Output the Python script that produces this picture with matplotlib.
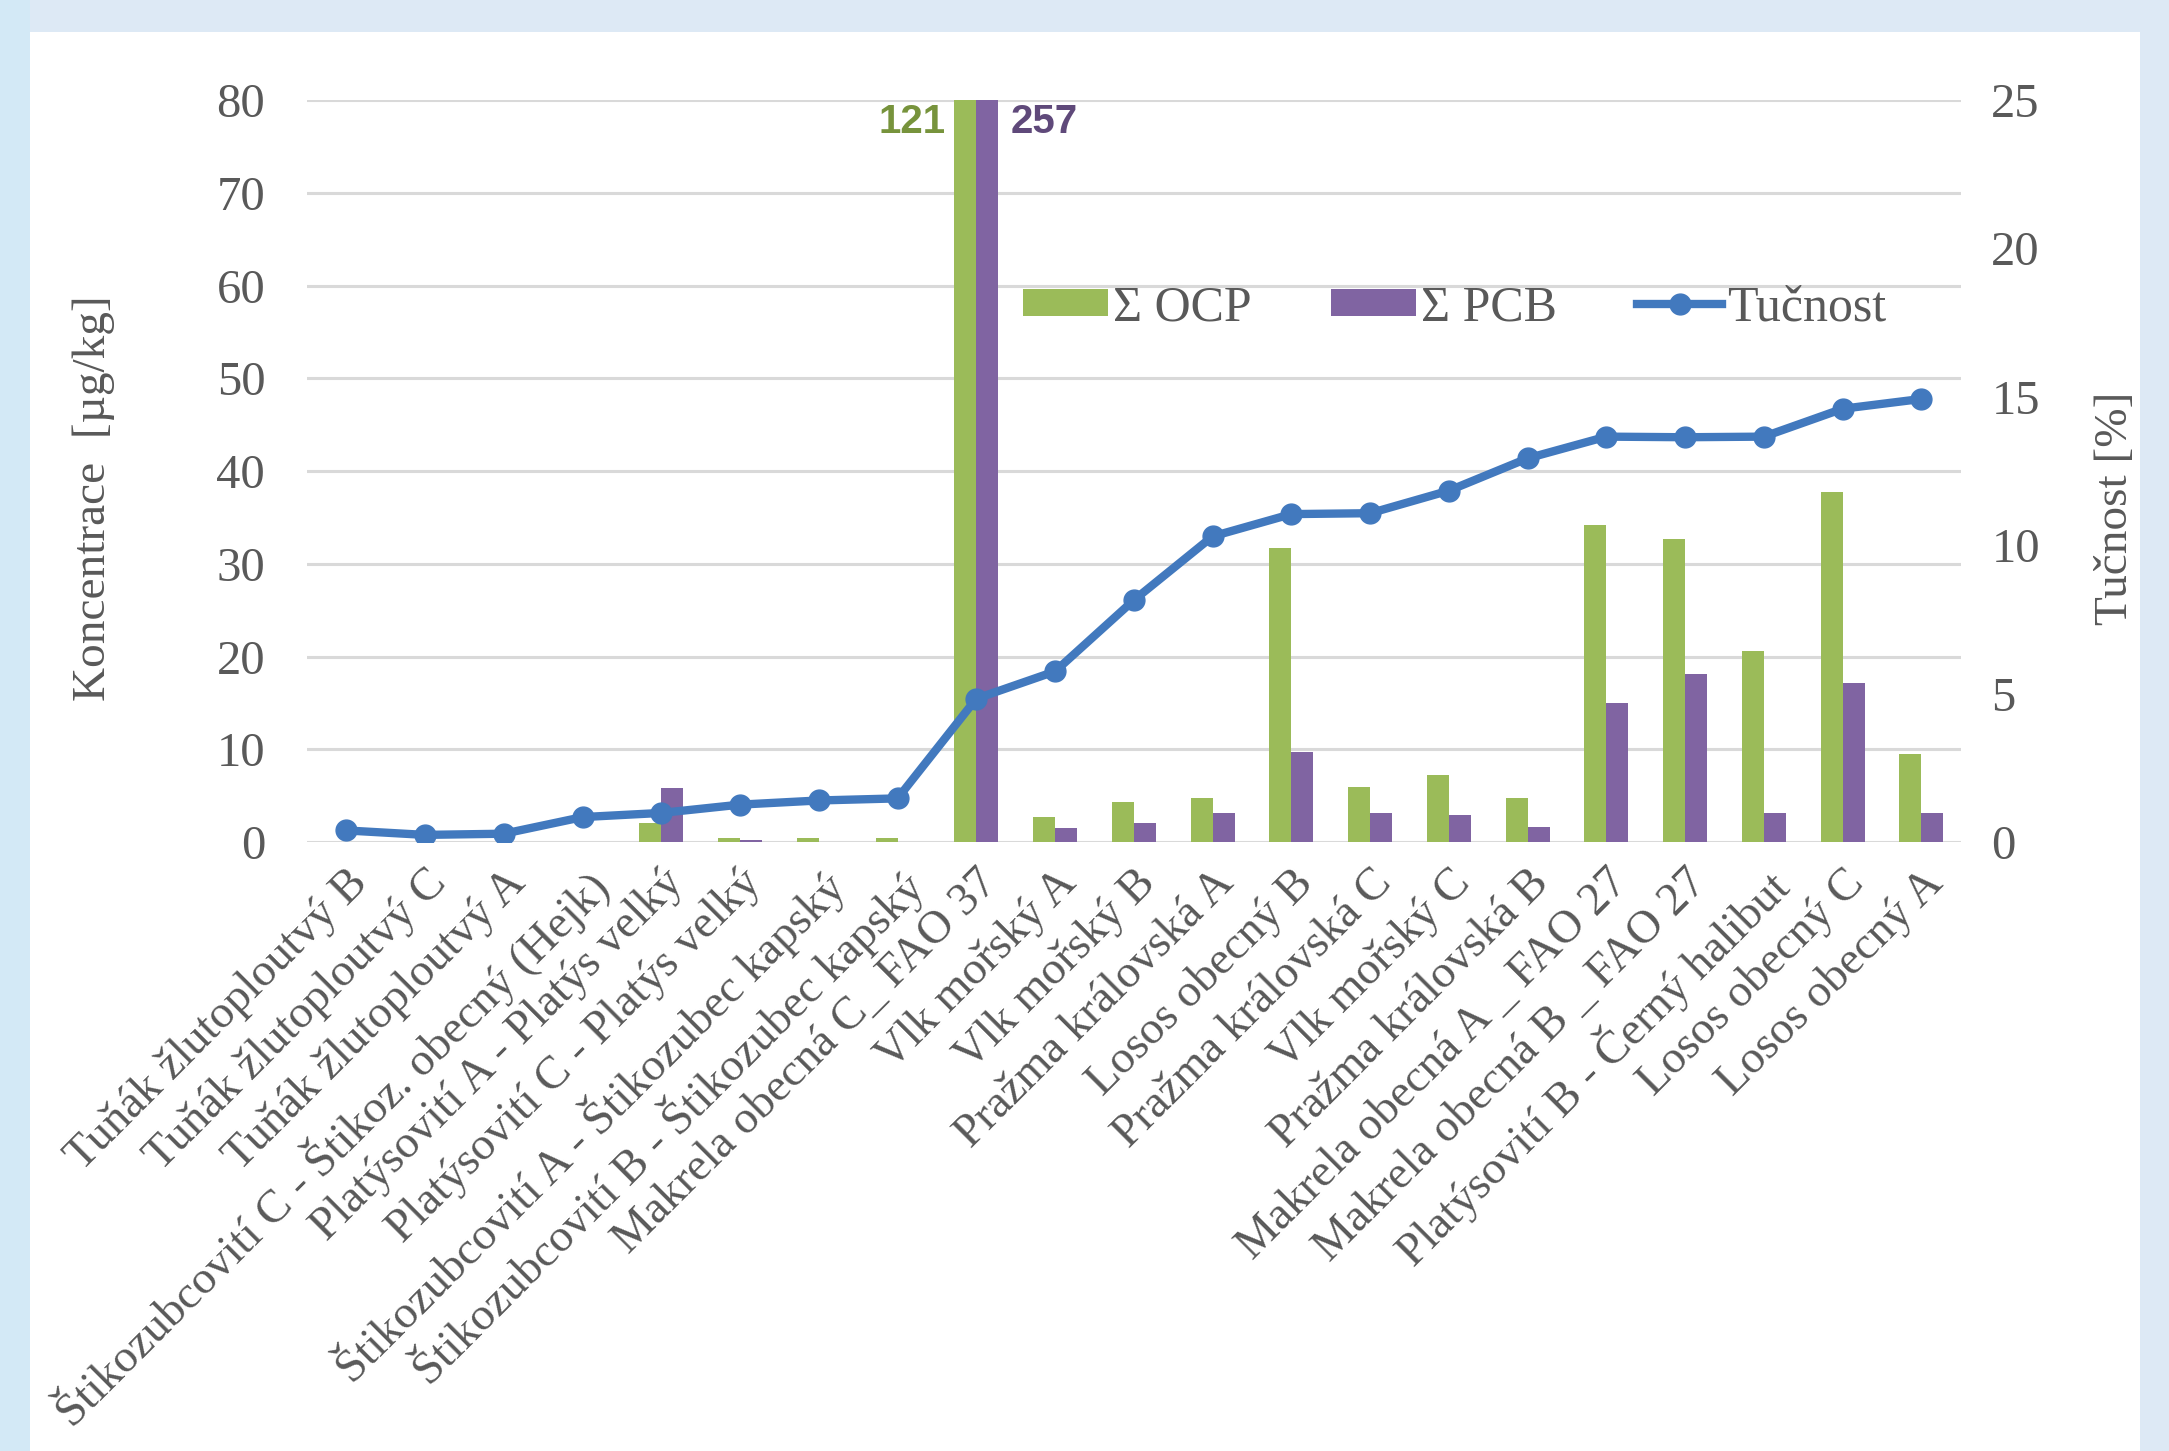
import matplotlib
matplotlib.use("Agg")
import matplotlib.pyplot as plt
import numpy as np
from matplotlib.patches import Rectangle

# kategorie (vzorky ryb)
kategorie = [
    "Tuňák žlutoploutvý B",
    "Tuňák žlutoploutvý C",
    "Tuňák žlutoploutvý A",
    "Štikozubcovití C - Štikoz. obecný (Hejk)",
    "Platýsovití A - Platýs velký",
    "Platýsovití C - Platýs velký",
    "Štikozubcovití A - Štikozubec kapský",
    "Štikozubcovití B - Štikozubec kapský",
    "Makrela obecná C_ FAO 37",
    "Vlk mořský A",
    "Vlk mořský B",
    "Pražma královská A",
    "Losos obecný B",
    "Pražma královská C",
    "Vlk mořský C",
    "Pražma královská B",
    "Makrela obecná A _ FAO 27",
    "Makrela obecná B _ FAO 27",
    "Platýsovití B - Černý halibut",
    "Losos obecný C",
    "Losos obecný A",
]

# hodnoty
ocp = [0.0, 0.0, 0.0, 0.0, 2.0, 0.4, 0.4, 0.4, 121, 2.7, 4.3, 4.8, 31.7,
       5.9, 7.2, 4.8, 34.2, 32.7, 20.6, 37.7, 9.5]
pcb = [0.0, 0.0, 0.0, 0.0, 5.8, 0.2, 0.0, 0.0, 257, 1.5, 2.1, 3.1, 9.7,
       3.1, 2.9, 1.6, 15.0, 18.1, 3.1, 17.2, 3.1]
tucnost = [0.39, 0.24, 0.28, 0.84, 0.98, 1.26, 1.4, 1.47, 4.83, 5.75, 8.15,
           10.3, 11.05, 11.08, 11.84, 12.93, 13.66, 13.64, 13.66, 14.6, 14.93]

zelena = "#9bbb59"
fialova = "#8064a2"
modra = "#4279be"
serif = ["Liberation Serif", "DejaVu Serif"]

fig = plt.figure(figsize=(21.69, 14.51), dpi=100)
fig.patch.set_facecolor("#dde9f5")
# bily panel a svetlejsi levy okraj
fig.patches.append(Rectangle((0, 0), 30 / 2169, 1, transform=fig.transFigure,
                             facecolor="#d3e9f6", edgecolor="none", zorder=-2))
fig.patches.append(Rectangle((30 / 2169, 0), 2110 / 2169, 1 - 32 / 1451,
                             transform=fig.transFigure, facecolor="white",
                             edgecolor="none", zorder=-2))

ax = fig.add_axes([0.1415, 0.4197, 0.904 - 0.1415, 0.931 - 0.4197])
ax.set_facecolor("none")
x = np.arange(len(kategorie))
w = 0.28
ax.bar(x - w / 2, ocp, width=w, color=zelena, label="Σ OCP", zorder=3)
ax.bar(x + w / 2, pcb, width=w, color=fialova, label="Σ PCB", zorder=3)
ax.set_ylim(0, 80)
ax.set_xlim(-0.5, len(kategorie) - 0.5)
ax.set_yticks(range(0, 81, 10))
ax.yaxis.grid(True, color="#d9d9d9", linewidth=2.2, zorder=0)
ax.set_axisbelow(True)
for s in ax.spines.values():
    s.set_visible(False)
ax.tick_params(axis="y", length=0, pad=30, labelsize=35, labelcolor="#595959")
ax.tick_params(axis="x", length=0, pad=14)
ax.set_xticks(x)
ax.set_xticklabels(kategorie, rotation=45, ha="right", va="top",
                   rotation_mode="anchor", fontsize=33.5, color="#595959",
                   family=serif)
for t in ax.get_yticklabels():
    t.set_family(serif)

# popisky preteklych sloupcu
ax.annotate("121", xy=(8 - w, 77.6), xytext=(-9, 0), textcoords="offset pixels",
            ha="right", va="center", fontsize=29, fontweight="bold",
            color="#77933c", family=["Liberation Sans", "DejaVu Sans"])
ax.annotate("257", xy=(8 + w, 77.6), xytext=(12, 0), textcoords="offset pixels",
            ha="left", va="center", fontsize=29, fontweight="bold",
            color="#5f497a", family=["Liberation Sans", "DejaVu Sans"])

ax2 = ax.twinx()
ax2.plot(x, tucnost, color=modra, linewidth=6, marker="o", markersize=15,
         label="Tučnost", zorder=4)
ax2.set_ylim(0, 25)
ax2.set_yticks(range(0, 26, 5))
for s in ax2.spines.values():
    s.set_visible(False)
ax2.tick_params(axis="y", length=0, pad=22, labelsize=35, labelcolor="#595959")
for t in ax2.get_yticklabels():
    t.set_family(serif)

h1, l1 = ax.get_legend_handles_labels()
h2, l2 = ax2.get_legend_handles_labels()
leg = ax2.legend(h1 + h2, l1 + l2, loc="center", bbox_to_anchor=(0.694, 0.72),
                 ncol=3, frameon=False, handlelength=1.7, handleheight=0.45,
                 handletextpad=0.1, columnspacing=1.6,
                 prop={"family": serif, "size": 36})
for t in leg.get_texts():
    t.set_color("#595959")

fig.text(94 / 2169, 1 - 498 / 1451, "Koncentrace  [µg/kg]", rotation=90,
         ha="center", va="center", fontsize=34, color="#595959", family=serif)
fig.text(2116 / 2169, 1 - 508 / 1451, "Tučnost [%]", rotation=90,
         ha="center", va="center", fontsize=34, color="#595959", family=serif)

fig.savefig("out.png", dpi=100, facecolor=fig.get_facecolor())
